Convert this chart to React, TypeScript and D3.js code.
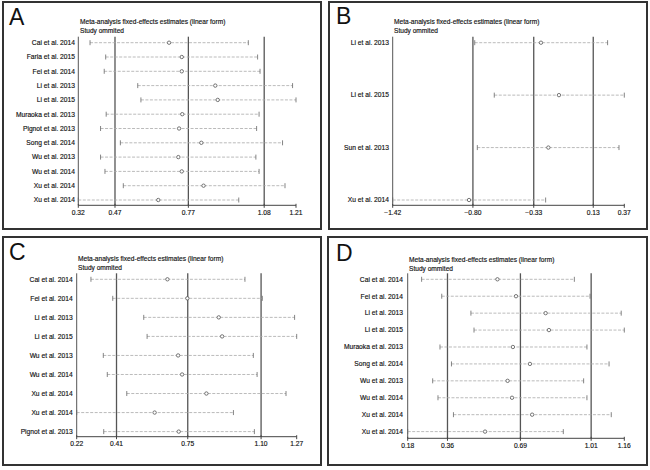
import React from 'react';
import * as d3 from 'd3';

const TITLE = 'Meta-analysis fixed-effects estimates (linear form)';
const SUBTITLE = 'Study ommited';

// Panel A
const aStudies = [
  'Cai et al. 2014', 'Faria et al. 2015', 'Fei et al. 2014', 'Li et al. 2013',
  'Li et al. 2015', 'Muraoka et al. 2013', 'Pignot et al. 2013', 'Song et al. 2014',
  'Wu et al. 2013', 'Wu et al. 2014', 'Xu et al. 2014', 'Xu et al. 2014',
];
const aLower = [0.368, 0.432, 0.426, 0.563, 0.576, 0.434, 0.411, 0.492, 0.411, 0.429, 0.504, 0.32];
const aEstimate = [0.691, 0.743, 0.743, 0.88, 0.89, 0.745, 0.732, 0.823, 0.729, 0.743, 0.832, 0.647];
const aUpper = [1.015, 1.053, 1.063, 1.196, 1.21, 1.059, 1.049, 1.155, 1.046, 1.059, 1.165, 0.976];
const aTicks = [0.32, 0.47, 0.77, 1.08, 1.21];

// Panel B
const bStudies = ['Li et al. 2013', 'Li et al. 2015', 'Sun et al. 2013', 'Xu et al. 2014'];
const bLower = [-0.786, -0.635, -0.766, -1.42];
const bEstimate = [-0.274, -0.135, -0.217, -0.83];
const bUpper = [0.241, 0.37, 0.329, -0.238];
const bTicks = [-1.42, -0.8, -0.33, 0.13, 0.37];

// Panel C
const cStudies = [
  'Cai et al. 2014', 'Fei et al. 2014', 'Li et al. 2013', 'Li et al. 2015', 'Wu et al. 2013',
  'Wu et al. 2014', 'Xu et al. 2014', 'Xu et al. 2014', 'Pignot et al. 2013',
];
const cLower = [0.288, 0.392, 0.54, 0.556, 0.347, 0.366, 0.459, 0.22, 0.349];
const cEstimate = [0.653, 0.748, 0.898, 0.914, 0.704, 0.723, 0.839, 0.592, 0.707];
const cUpper = [1.023, 1.106, 1.26, 1.27, 1.063, 1.081, 1.219, 0.968, 1.068];
const cTicks = [0.22, 0.41, 0.75, 1.1, 1.27];

// Panel D
const dStudies = [
  'Cai et al. 2014', 'Fei et al. 2014', 'Li et al. 2013', 'Li et al. 2015', 'Muraoka et al. 2013',
  'Song et al. 2014', 'Wu et al. 2013', 'Wu et al. 2014', 'Xu et al. 2014', 'Xu et al. 2014',
];
const dLower = [0.243, 0.334, 0.466, 0.48, 0.326, 0.378, 0.293, 0.317, 0.387, 0.18];
const dEstimate = [0.586, 0.67, 0.804, 0.819, 0.656, 0.733, 0.632, 0.652, 0.743, 0.53];
const dUpper = [0.934, 1.005, 1.146, 1.16, 0.991, 1.091, 0.976, 0.991, 1.101, 0.884];
const dTicks = [0.18, 0.36, 0.69, 1.01, 1.16];

const FONT = '"Liberation Sans", Arial, sans-serif';

interface Layout {
  box: [number, number, number, number];
  xRange: [number, number];
  axisY: number;
  rowTop: number;
  rowBottom: number;
  labelX: number;
  titleX: number;
  titleY: number;
  letterX: number;
  letterY: number;
}

interface PanelProps {
  letter: string;
  studies: string[];
  lower: number[];
  estimate: number[];
  upper: number[];
  ticks: number[];
  layout: Layout;
}

// small text in the original is heavy, a thin stroke imitates that
const smallText = {
  fontFamily: FONT,
  fill: '#111',
  stroke: '#111',
  strokeWidth: 0.15,
};

const Panel: React.FC<PanelProps> = ({ letter, studies, lower, estimate, upper, ticks, layout }) => {
  const L = layout;
  const x = d3
    .scaleLinear()
    .domain([ticks[0], ticks[ticks.length - 1]])
    .range(L.xRange);
  const y = d3
    .scalePoint<number>()
    .domain(studies.map((_, i) => i))
    .range([L.rowTop, L.rowBottom]);
  const top = L.rowTop - 6;
  const fmt = d3.format('.2f');
  const [bx, by, bw, bh] = L.box;

  return (
    <g>
      <rect x={bx} y={by} width={bw} height={bh} fill="#fff" stroke="#333" strokeWidth={2} />
      <text x={L.letterX} y={L.letterY} fontSize={23} fontFamily={FONT} fill="#111">
        {letter}
      </text>
      <text x={L.titleX} y={L.titleY} dy="0.35em" fontSize={6.6} {...smallText}>
        {TITLE}
      </text>
      <text x={L.titleX} y={L.titleY + 9} dy="0.35em" fontSize={6.6} {...smallText}>
        {SUBTITLE}
      </text>

      {/* left edge and reference lines */}
      {ticks.slice(0, -1).map((t, i) => (
        <line
          key={'v' + i}
          x1={x(t)}
          x2={x(t)}
          y1={top}
          y2={L.axisY}
          stroke="#555"
          strokeWidth={i === 0 ? 1 : 1.3}
        />
      ))}

      {/* axis */}
      <line x1={L.xRange[0]} x2={L.xRange[1]} y1={L.axisY} y2={L.axisY} stroke="#444" strokeWidth={1} />
      {ticks.map((t, i) => (
        <g key={'t' + i}>
          <line x1={x(t)} x2={x(t)} y1={L.axisY - 1.5} y2={L.axisY + 2.5} stroke="#444" strokeWidth={1} />
          <text x={x(t)} y={L.axisY + 7} dy="0.35em" textAnchor="middle" fontSize={6.7} {...smallText}>
            {fmt(t)}
          </text>
        </g>
      ))}

      {/* rows */}
      {studies.map((s, i) => {
        const yy = y(i) as number;
        return (
          <g key={'r' + i}>
            <text x={L.labelX} y={yy} dy="0.35em" textAnchor="end" fontSize={6.7} {...smallText}>
              {s}
            </text>
            <line
              x1={x(lower[i])}
              x2={x(upper[i])}
              y1={yy}
              y2={yy}
              stroke="#aaa"
              strokeWidth={0.8}
              strokeDasharray="3,1.5"
            />
            <line x1={x(lower[i])} x2={x(lower[i])} y1={yy - 2.5} y2={yy + 2.5} stroke="#666" strokeWidth={0.8} />
            <line x1={x(upper[i])} x2={x(upper[i])} y1={yy - 2.5} y2={yy + 2.5} stroke="#666" strokeWidth={0.8} />
            <circle cx={x(estimate[i])} cy={yy} r={1.7} fill="#fff" stroke="#555" strokeWidth={0.8} />
          </g>
        );
      })}
    </g>
  );
};

const layoutA: Layout = {
  box: [3, 2, 318, 227],
  xRange: [78.3, 296],
  axisY: 205.3,
  rowTop: 42.7,
  rowBottom: 200,
  labelX: 75,
  titleX: 80,
  titleY: 21.7,
  letterX: 9,
  letterY: 25,
};

const layoutB: Layout = {
  box: [329, 2, 318, 227],
  xRange: [392.7, 624.3],
  axisY: 205.3,
  rowTop: 42.7,
  rowBottom: 200,
  labelX: 389,
  titleX: 394,
  titleY: 21.7,
  letterX: 336,
  letterY: 23.5,
};

const layoutC: Layout = {
  box: [3, 237, 318, 228],
  xRange: [76.7, 296.7],
  axisY: 436.7,
  rowTop: 279.3,
  rowBottom: 431.6,
  labelX: 72.7,
  titleX: 78,
  titleY: 259,
  letterX: 9,
  letterY: 259.5,
};

const layoutD: Layout = {
  box: [328, 237, 319, 228],
  xRange: [407.7, 624.3],
  axisY: 438.3,
  rowTop: 279.3,
  rowBottom: 431.6,
  labelX: 403,
  titleX: 409,
  titleY: 260,
  letterX: 336,
  letterY: 260.5,
};

const App: React.FC = () => {
  return (
    <svg
      width={650}
      height={470}
      style={{ position: 'absolute', left: 0, top: 0, background: '#fff' }}
    >
      <rect width={650} height={470} fill="#fff" />
      <Panel letter="A" studies={aStudies} lower={aLower} estimate={aEstimate} upper={aUpper} ticks={aTicks} layout={layoutA} />
      <Panel letter="B" studies={bStudies} lower={bLower} estimate={bEstimate} upper={bUpper} ticks={bTicks} layout={layoutB} />
      <Panel letter="C" studies={cStudies} lower={cLower} estimate={cEstimate} upper={cUpper} ticks={cTicks} layout={layoutC} />
      <Panel letter="D" studies={dStudies} lower={dLower} estimate={dEstimate} upper={dUpper} ticks={dTicks} layout={layoutD} />
    </svg>
  );
};

export default App;
